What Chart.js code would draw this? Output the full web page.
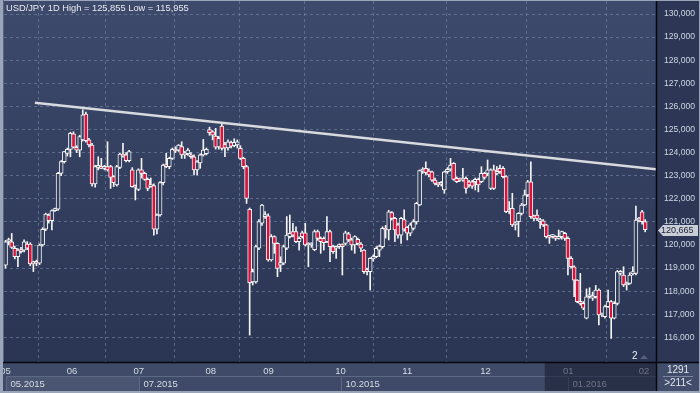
<!DOCTYPE html>
<html><head><meta charset="utf-8">
<script src="https://cdn.jsdelivr.net/npm/chart.js@4.4.1/dist/chart.umd.min.js"></script>
<style>html,body{margin:0;padding:0;background:#3e4a67;overflow:hidden}canvas{display:block}</style>
</head><body><canvas id="c" width="700" height="393"></canvas>
<script>
// ---- DATA (USD/JPY daily candles) ----
const opens = [119.13,120.15,120.14,119.86,119.50,119.78,119.78,120.04,120.04,119.18,119.22,119.21,120.00,120.68,121.30,121.05,121.49,121.55,123.10,123.61,
123.97,124.14,124.81,124.23,124.11,124.55,125.67,124.55,124.33,122.64,123.36,123.39,123.32,123.39,123.39,122.96,122.60,123.36,123.94,123.90,
123.65,123.25,122.53,122.41,123.25,123.10,122.84,122.53,122.57,120.68,121.30,122.70,123.46,123.39,123.75,124.14,124.11,124.26,123.90,123.95,
123.90,123.82,123.25,123.55,123.90,123.95,125.00,124.90,124.72,124.25,125.15,124.35,124.20,124.43,124.30,124.33,124.18,123.75,123.39,121.54,
118.40,118.40,119.86,120.94,121.23,121.26,119.35,120.36,120.07,119.13,119.21,119.86,120.36,120.58,120.58,120.14,120.53,120.53,120.00,120.00,
119.80,120.58,120.29,120.29,120.14,120.58,119.93,119.86,119.93,120.00,120.07,120.48,120.22,120.00,120.25,120.04,119.78,118.92,118.85,119.40,
119.50,119.78,119.93,120.72,120.65,121.40,121.15,120.87,120.43,121.10,120.76,120.51,120.72,121.00,121.73,123.20,123.32,123.20,123.17,122.81,
122.67,122.63,122.38,123.17,123.28,123.54,122.89,122.84,122.81,122.89,122.74,122.74,122.74,122.84,122.74,123.10,123.10,122.45,123.25,123.10,
123.32,123.32,122.96,121.44,121.59,120.87,121.01,121.37,121.73,122.17,122.74,121.26,121.30,121.01,121.05,120.87,120.36,120.36,120.33,120.29,
120.36,120.51,120.29,119.42,119.06,118.48,117.55,117.47,116.83,117.76,117.70,117.76,118.05,116.97,116.90,117.33,117.55,116.83,117.47,118.77,
118.70,118.27,118.34,118.75,118.77,121.08,121.44,121.01];
const highs = [120.20,120.30,120.50,119.95,119.85,119.90,120.22,120.15,120.10,119.30,119.35,120.05,120.75,121.38,121.35,121.52,121.60,123.15,123.65,124.05,
124.20,124.88,124.90,124.30,124.75,125.855,125.75,124.62,124.40,123.45,123.82,123.75,123.45,124.47,123.45,123.00,123.45,123.97,124.40,124.00,
124.10,123.35,122.60,123.30,123.75,123.15,122.90,122.90,122.65,121.35,122.75,123.50,123.97,123.80,124.20,124.25,124.35,124.47,124.05,124.18,
124.00,123.90,123.65,123.95,124.57,124.20,125.10,124.95,125.05,124.70,125.27,124.45,124.55,124.50,124.60,124.55,124.30,123.80,123.45,121.60,
118.95,120.00,121.10,121.76,121.45,121.35,120.45,120.40,120.10,119.49,120.00,121.23,121.30,120.94,120.79,120.35,120.60,120.94,120.10,120.10,
120.65,120.65,120.35,120.35,121.23,120.65,120.00,119.95,120.05,120.05,120.60,120.55,120.30,120.40,120.30,120.10,119.80,119.00,119.45,119.57,
119.93,120.00,120.79,120.85,121.50,121.45,121.20,120.95,121.20,121.52,120.80,120.95,121.10,121.85,123.25,123.35,123.60,123.30,123.20,122.90,
122.70,122.75,123.20,123.35,123.75,123.57,122.95,122.90,123.32,122.95,122.80,122.80,122.90,122.90,123.39,123.15,123.68,123.30,123.46,123.39,
123.46,123.40,123.00,121.88,122.24,121.00,121.40,121.80,122.38,122.80,123.60,121.30,121.52,121.15,121.10,120.90,120.40,120.45,120.40,120.65,
120.60,120.55,120.35,119.50,119.10,118.50,118.77,117.55,118.10,118.15,117.95,118.25,118.10,117.05,117.40,118.05,117.60,117.55,118.90,118.90,
119.06,118.40,118.80,119.06,121.68,121.20,121.50,121.10];
const lows = [119.00,120.00,119.85,119.40,119.06,119.65,119.70,119.80,119.10,118.85,119.10,119.15,119.95,120.62,120.95,120.65,121.45,121.50,123.00,123.55,
123.85,123.82,124.20,124.00,123.82,124.50,124.45,124.25,122.55,122.50,123.25,123.30,123.25,123.20,122.45,122.53,122.55,123.30,123.80,123.60,
123.60,122.50,121.95,122.35,122.90,122.80,122.35,122.50,120.43,120.48,121.25,122.60,123.35,123.30,123.70,124.00,124.05,123.75,123.75,123.88,
123.75,123.03,123.03,123.32,123.85,123.90,124.75,124.55,124.15,124.15,124.10,123.82,124.10,124.20,124.25,124.20,123.70,123.30,121.80,116.10,
118.27,118.35,119.80,120.85,121.15,119.30,119.30,119.64,118.63,118.85,119.15,119.80,120.30,120.35,120.10,119.78,120.30,119.95,119.06,119.90,
119.75,120.20,119.64,119.78,120.10,119.28,119.64,119.42,119.85,118.70,120.00,120.15,119.78,119.64,120.00,119.71,118.77,118.70,118.05,119.30,
119.45,119.50,119.86,120.30,120.22,121.08,120.14,120.30,120.07,120.60,120.22,120.40,120.65,120.90,121.70,123.10,123.05,122.95,122.75,122.60,
122.53,122.55,122.24,123.10,123.20,122.80,122.70,122.75,122.75,122.24,122.50,122.45,122.38,122.30,122.70,122.85,123.00,122.40,122.40,123.05,
123.10,122.90,121.40,121.35,120.80,120.65,120.36,121.30,121.70,122.10,121.15,121.05,121.05,120.72,120.80,120.30,120.07,120.30,120.20,120.25,
120.25,120.20,118.70,119.00,117.76,117.50,117.40,117.20,116.80,117.70,117.60,117.70,116.54,116.90,116.83,117.30,115.955,116.80,117.40,118.70,
118.20,118.05,118.30,118.70,118.70,121.00,120.90,120.57];
const closes = [120.14,120.19,119.90,119.50,119.78,119.71,120.14,119.86,119.18,119.24,119.21,120.00,120.68,121.34,121.05,121.49,121.55,123.10,123.61,124.04,
124.14,124.83,124.23,124.11,124.69,125.63,124.52,124.33,122.64,123.39,123.39,123.32,123.36,123.25,122.93,122.70,123.39,123.94,123.85,123.65,
124.04,122.53,122.50,123.25,123.10,122.84,122.45,122.60,120.68,121.30,122.70,123.46,123.39,123.75,124.14,124.07,124.33,123.90,123.97,124.11,
123.82,123.25,123.60,123.90,124.11,124.14,124.86,124.76,124.23,124.62,124.18,124.20,124.47,124.28,124.45,124.47,123.75,123.39,122.02,118.37,
118.85,119.93,121.01,121.73,121.30,119.35,120.36,120.07,118.99,119.24,119.93,120.43,120.51,120.43,120.14,120.29,120.36,120.00,120.02,120.01,
120.58,120.29,120.14,120.10,120.58,119.93,119.71,119.86,120.00,119.93,120.53,120.22,120.00,120.36,120.07,119.86,118.85,118.85,119.42,119.50,
119.86,119.95,120.72,120.65,121.44,121.15,120.65,120.43,121.15,120.68,120.51,120.87,121.01,121.80,123.22,123.25,123.13,123.03,122.81,122.67,
122.60,122.67,123.17,123.28,123.46,122.84,122.74,122.81,122.89,122.45,122.60,122.55,122.84,122.60,123.10,122.93,123.25,123.25,122.45,123.17,
123.17,122.96,121.44,121.52,120.87,120.94,121.37,121.73,122.17,122.74,121.23,121.15,121.15,121.08,120.87,120.36,120.33,120.36,120.29,120.36,
120.58,120.29,119.42,119.06,118.48,117.55,117.47,117.26,117.76,117.80,117.80,118.05,116.97,116.97,117.33,117.55,116.83,117.47,118.85,118.85,
118.27,118.34,118.70,118.85,121.08,121.11,121.01,120.665];

const monthTickIdx    = [0, 21.5, 43.1, 66.4, 85.1, 108.4, 130.0, 155.3, 182.1, 206.6];
const monthTickLabels = ['05','06','07','08','09','10','11','12','01','02'];
const periodStartIdx  = [0, 43.1, 108.4, 182.1];
const periodLabels    = ['05.2015','07.2015','10.2015','01.2016'];
const yTickValues     = [116,117,118,119,120,121,122,123,124,125,126,127,128,129,130];
const trendIdx        = [9.5, 210.5];
const trendVal        = [126.16, 123.28];
const titleText       = 'USD/JPY 1D';
const titleHigh       = 125.855;
const titleLow        = 115.955;
const barsInfoTop     = '1291';
const barsInfoBottom  = '>211<';
const slotCount       = 211;
const shadeFromIdx    = 175;

// ---- STYLE ----
const RED = '#d8123a';
const WHITE = '#f4f4f4';
const GRID = 'rgba(118,136,170,0.6)';
const AXIS_BG = '#3e4a67';
const PANEL_BG = '#2d3755';
const fmt = v => v.toFixed(3).replace('.', ',');

let gradCache = null;
function plotGradient(chart) {
  const a = chart.chartArea;
  if (!a) return '#334060';
  if (gradCache && gradCache.t === a.top && gradCache.b === a.bottom) return gradCache.g;
  const g = chart.ctx.createLinearGradient(0, a.top, 0, a.bottom);
  g.addColorStop(0, '#3d4a6b');
  g.addColorStop(1, '#2a3453');
  gradCache = {t: a.top, b: a.bottom, g};
  return g;
}

const idx = opens.map((_, i) => i);
const wickData = idx.map(i => ({x: i, y: [lows[i], highs[i]]}));
const bodyData = idx.map(i => ({x: i, y: [Math.min(opens[i], closes[i]), Math.max(opens[i], closes[i])]}));
const trendData = trendIdx.map((x, k) => ({x, y: trendVal[k]}));

const decor = {
  id: 'decor',
  beforeDraw(chart) {
    const {ctx, chartArea: a, width, height} = chart;
    const xs = chart.scales.x;
    ctx.save();
    ctx.fillStyle = AXIS_BG; ctx.fillRect(0, 0, width, height);
    ctx.fillStyle = plotGradient(chart); ctx.fillRect(a.left, a.top, a.right - a.left, a.bottom - a.top);
    ctx.fillStyle = PANEL_BG; ctx.fillRect(a.right, 0, width - a.right, a.bottom);
    periodStartIdx.forEach((s, k) => {
      const x0 = Math.max(a.left + 2, Math.round(xs.getPixelForValue(s))) + 0.5;
      const x1 = k + 1 < periodStartIdx.length ? Math.round(xs.getPixelForValue(periodStartIdx[k + 1])) + 0.5 : a.right;
      ctx.fillStyle = k === 0 ? '#4a5571' : AXIS_BG;
      ctx.fillRect(x0, a.bottom + 14, x1 - x0, 15);
      ctx.strokeStyle = '#5d6985'; ctx.lineWidth = 1;
      ctx.beginPath();
      ctx.moveTo(x0, a.bottom + 29); ctx.lineTo(x0, a.bottom + 14.5); ctx.lineTo(x1, a.bottom + 14.5);
      ctx.stroke();
      ctx.fillStyle = '#d6dbe6'; ctx.font = '9.5px "Liberation Sans", Arial, sans-serif';
      ctx.textBaseline = 'middle'; ctx.textAlign = 'left';
      ctx.fillText(periodLabels[k], x0 + 4, a.bottom + 22);
    });
    ctx.restore();
  },
  afterDraw(chart) {
    const {ctx, chartArea: a, width, height} = chart;
    const xs = chart.scales.x, ys = chart.scales.y;
    ctx.save();
    const sx = xs.getPixelForValue(shadeFromIdx - 0.5);
    ctx.fillStyle = 'rgba(22,28,48,0.55)';
    ctx.fillRect(sx, a.bottom + 1, a.right - sx, height - a.bottom - 3);
    ctx.fillStyle = '#414d6a';
    ctx.fillRect(a.right, a.bottom, width - a.right, height - a.bottom);
    ctx.fillStyle = '#e2e6ee'; ctx.font = '10px "Liberation Sans", Arial, sans-serif';
    ctx.textAlign = 'center'; ctx.textBaseline = 'middle';
    const cx = (a.right + width) / 2;
    ctx.fillText(barsInfoTop, cx, a.bottom + 8);
    ctx.fillText(barsInfoBottom, cx, a.bottom + 21);
    ctx.strokeStyle = '#7d88a0'; ctx.lineWidth = 1;
    ctx.beginPath(); ctx.moveTo(a.right + 7, a.bottom + 14.5); ctx.lineTo(width - 7, a.bottom + 14.5); ctx.stroke();
    ctx.strokeStyle = '#05070c'; ctx.lineWidth = 1.5;
    ctx.beginPath(); ctx.moveTo(0, a.bottom + 0.5); ctx.lineTo(width, a.bottom + 0.5); ctx.stroke();
    ctx.beginPath(); ctx.moveTo(a.right + 0.5, 0); ctx.lineTo(a.right + 0.5, height); ctx.stroke();
    const last = closes[closes.length - 1];
    const py = Math.round(ys.getPixelForValue(last)) + 0.5;
    ctx.fillStyle = '#c9cdd6';
    ctx.beginPath();
    ctx.moveTo(a.right + 2, py); ctx.lineTo(a.right + 7, py - 5.5); ctx.lineTo(width - 2, py - 5.5);
    ctx.lineTo(width - 2, py + 5.5); ctx.lineTo(a.right + 7, py + 5.5); ctx.closePath(); ctx.fill();
    ctx.fillStyle = '#1c2236'; ctx.font = '9px "Liberation Sans", Arial, sans-serif';
    ctx.textAlign = 'left'; ctx.textBaseline = 'middle';
    ctx.fillText(fmt(last), a.right + 5, py + 0.5);
    ctx.fillStyle = '#e8ebf1'; ctx.font = '9.3px "Liberation Sans", Arial, sans-serif';
    ctx.textAlign = 'left'; ctx.textBaseline = 'middle';
    ctx.fillText(titleText + ' High = ' + fmt(titleHigh) + ' Low = ' + fmt(titleLow), 6, 8);
    ctx.fillStyle = '#eef0f4'; ctx.font = '10px "Liberation Sans", Arial, sans-serif';
    ctx.fillText('2', a.right - 24, a.bottom - 6);
    ctx.fillStyle = '#56617c';
    ctx.beginPath(); ctx.moveTo(a.right - 16, a.bottom - 3); ctx.lineTo(a.right - 12, a.bottom - 7); ctx.lineTo(a.right - 8, a.bottom - 3); ctx.closePath(); ctx.fill();
    ctx.fillStyle = '#9aa5ba';
    ctx.fillRect(0, 0, 3, height);
    ctx.fillRect(0, 0, width, 1);
    ctx.fillRect(0, height - 2, width, 2);
    ctx.fillRect(width - 1, 0, 1, height);
    ctx.fillStyle = '#59647e';
    ctx.fillRect(3, 0, 1, a.bottom);
    ctx.restore();
  }
};

new Chart(document.getElementById('c'), {
  type: 'bar',
  data: {
    datasets: [
      {type: 'line', data: trendData, borderColor: '#d8dadd', borderWidth: 2.4, pointRadius: 0, order: 0, tension: 0},
      {data: bodyData, grouped: false, order: 1, barThickness: 4, minBarLength: 2,
       backgroundColor: c => (closes[c.dataIndex] < opens[c.dataIndex] ? RED : plotGradient(c.chart)),
       borderColor: WHITE, borderWidth: 1, borderSkipped: false},
      {data: wickData, grouped: false, order: 2, barThickness: 1, backgroundColor: WHITE, borderWidth: 0}
    ]
  },
  options: {
    responsive: false, animation: false, devicePixelRatio: 1,
    layout: {padding: {left: 4, top: 1, right: 0, bottom: 0}},
    plugins: {legend: {display: false}, tooltip: {enabled: false}},
    scales: {
      x: {
        type: 'linear', min: -0.5, max: slotCount - 0.5, offset: false,
        afterBuildTicks: s => { s.ticks = monthTickIdx.map(v => ({value: v})); },
        afterFit: s => { s.height = 31; s.paddingLeft = 0; s.paddingRight = 0; },
        ticks: {autoSkip: false, maxRotation: 0, padding: 4, color: '#d6dbe6',
          font: {family: '"Liberation Sans", Arial, sans-serif', size: 9.5},
          callback: (v, i) => monthTickLabels[i]},
        grid: {color: GRID, lineWidth: 1, drawTicks: false},
        border: {display: false, dash: [3, 3]}
      },
      y: {
        position: 'right', min: 114.935, max: 130.563,
        afterBuildTicks: s => { s.ticks = yTickValues.map(v => ({value: v})); },
        afterFit: s => { s.width = 44; s.paddingTop = 0; s.paddingBottom = 0; },
        ticks: {padding: 8, color: '#cfd6e4',
          font: {family: '"Liberation Sans", Arial, sans-serif', size: 8.6},
          callback: v => fmt(v)},
        grid: {color: GRID, lineWidth: 1, drawTicks: false},
        border: {display: false, dash: [3, 3]}
      }
    }
  },
  plugins: [decor]
});
</script>
</body></html>
